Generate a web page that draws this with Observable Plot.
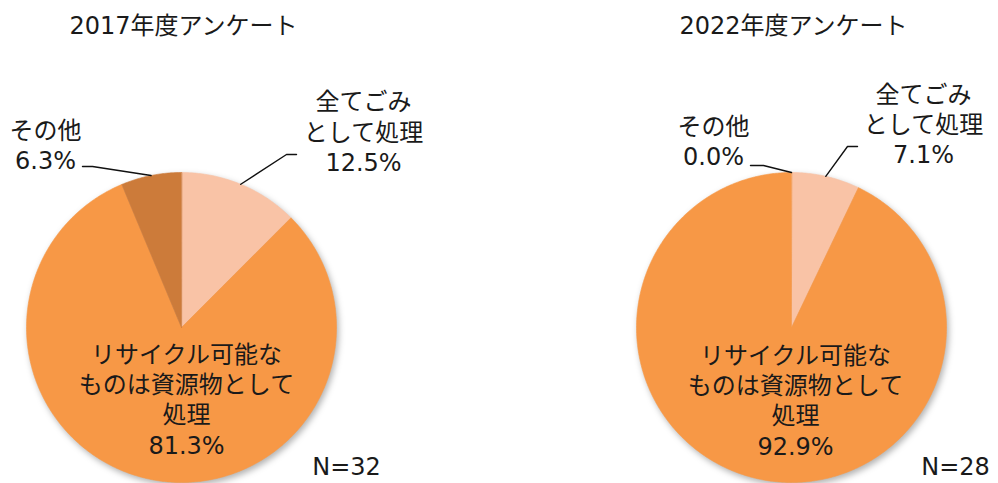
<!DOCTYPE html>
<html><head><meta charset="utf-8">
<script src="https://cdn.jsdelivr.net/npm/d3@7"></script>
<script src="https://cdn.jsdelivr.net/npm/@observablehq/plot@0.6"></script>
<style>body{margin:0;background:#fff} svg{display:block}</style>
</head><body><div id="chart"></div>
<script>
// ---- data ----
const surveys = ["2017年度アンケート", "2022年度アンケート"];
const categories = ["全てごみとして処理", "リサイクル可能なものは資源物として処理", "その他"];
const categoryLabelLines = [["全てごみ", "として処理"], ["リサイクル可能な", "ものは資源物として", "処理"], ["その他"]];
const values2017 = [12.5, 81.3, 6.3];
const values2022 = [7.1, 92.9, 0.0];
const sampleSizes = [32, 28];
const colors = ["#F9C3A6", "#F79846", "#CC7B3A"];

// ---- layout (pixels) ----
const W = 998, H = 483, R = 155;
const FONT = "'DejaVu Sans', 'Noto Sans CJK JP', sans-serif";
const pies = [
  {cx: 181, cy: 327, titleX: 183, nX: 346,
   label: [{x: 363, y: 130.5, elbow: [286, 154], end: [296, 154]},
           {x: 186, y: 398},
           {x: 45, y: 143.5, elbow: [92, 166], end: [82, 166]}]},
  {cx: 791, cy: 327, titleX: 793, nX: 955,
   label: [{x: 923, y: 123, elbow: [847, 146], end: [857, 146]},
           {x: 795, y: 399},
           {x: 713, y: 139.5, elbow: [763, 165], end: [750, 165]}]}
];
const seriesValues = [values2017, values2022];

const slicePts = [], labels = [], leaders = [], titles = [];
seriesValues.forEach((vals, s) => {
  const p = pies[s];
  const arcs = d3.pie().sort(null).value(d => d)(vals);
  arcs.forEach((a, i) => {
    const key = s + "-" + i;
    if (a.value > 0) {
      slicePts.push({key, cat: categories[i], x: p.cx, y: p.cy});
      const n = Math.max(2, Math.ceil((a.endAngle - a.startAngle) / 0.01));
      for (let k = 0; k <= n; k++) {
        const t = a.startAngle + (a.endAngle - a.startAngle) * k / n;
        slicePts.push({key, cat: categories[i], x: p.cx + R * Math.sin(t), y: p.cy - R * Math.cos(t)});
      }
    }
    const L = p.label[i];
    labels.push({x: L.x, y: L.y, text: [...categoryLabelLines[i], a.value.toFixed(1) + "%"].join("\n")});
    if (L.elbow) {
      const m = (a.startAngle + a.endAngle) / 2;
      leaders.push({key, x: L.end[0], y: L.end[1]});
      leaders.push({key, x: L.elbow[0], y: L.elbow[1]});
      leaders.push({key, x: p.cx + R * Math.sin(m), y: p.cy - R * Math.cos(m)});
    }
  });
  titles.push({x: p.titleX, y: 26, text: surveys[s]});
  titles.push({x: p.nX, y: 467, text: "N=" + sampleSizes[s]});
});

const chart = Plot.plot({
  width: W, height: H, margin: 0,
  style: {fontFamily: FONT, background: "#fff"},
  x: {domain: [0, W], range: [0, W], axis: null},
  y: {domain: [0, H], range: [0, H], axis: null},
  color: {domain: categories, range: colors},
  marks: [
    Plot.line(slicePts, {x: "x", y: "y", z: "key", fill: "cat", stroke: "cat", strokeWidth: 0.6, curve: "linear-closed"}),
    Plot.line(leaders, {x: "x", y: "y", z: "key", stroke: "#111", strokeWidth: 1.4}),
    Plot.text(labels, {x: "x", y: "y", text: "text", fontSize: 24, lineHeight: 1.26, fill: "#1a1a1a", lineAnchor: "middle"}),
    Plot.text(titles, {x: "x", y: "y", text: "text", fontSize: 24, fill: "#1a1a1a"})
  ]
});
document.getElementById("chart").appendChild(chart);
const g = chart.querySelector('g[aria-label="line"]');
if (g) g.style.filter = "drop-shadow(2px 3px 3px rgba(0,0,0,0.3))";
</script>
</body></html>
